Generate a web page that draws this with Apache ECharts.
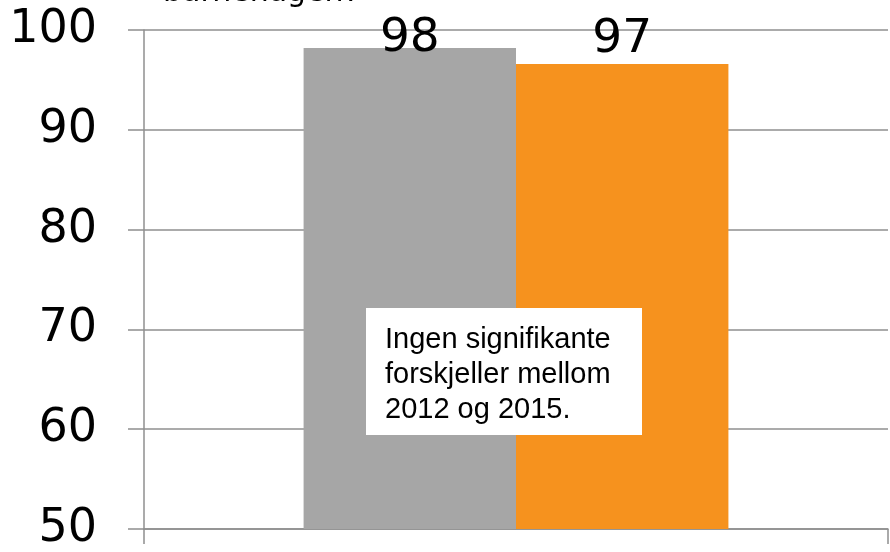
<!DOCTYPE html>
<html>
<head>
<meta charset="utf-8">
<script src="https://cdn.jsdelivr.net/npm/echarts@6/dist/echarts.min.js"></script>
<style>
  html, body { margin: 0; padding: 0; background: #fff; }
  #main { width: 890px; height: 552px; }
</style>
</head>
<body>
<div id="main"></div>
<script>
// data
var categories = ['barnehagen'];
var seriesNames = ['2012', '2015'];
var values2012 = [98.2];
var values2015 = [96.6];
var yTicks = [50, 60, 70, 80, 90, 100];
var noteLines = ['Ingen signifikante', 'forskjeller mellom', '2012 og 2015.'];

var myChart = echarts.init(document.getElementById('main'));

var gridColor = '#8f8f8f';
var bigFont = 'DejaVu Sans, Verdana, sans-serif';

function labelled(values, dist) {
    return values.map(function (v) {
        return { value: v, label: { distance: dist } };
    });
}

var option = {
    animation: false,
    title: {
        text: 'barnehagen?',
        left: 163,
        top: -22,
        padding: 0,
        textStyle: { fontFamily: bigFont, fontSize: 30, fontWeight: 'normal', color: '#000' }
    },
    grid: { left: 144, right: 2, top: 30, bottom: 17, containLabel: false },
    xAxis: {
        type: 'category',
        data: categories,
        axisLine: { lineStyle: { color: gridColor, width: 1.5 } },
        axisTick: { show: true, length: 15, lineStyle: { color: gridColor, width: 1.5 } },
        axisLabel: { show: false }
    },
    yAxis: {
        type: 'value',
        min: yTicks[0],
        max: yTicks[yTicks.length - 1],
        interval: 10,
        axisLine: { show: true, lineStyle: { color: gridColor, width: 1.5 } },
        axisTick: { show: true, length: 16, lineStyle: { color: gridColor, width: 1.5 } },
        axisLabel: { margin: 47, fontFamily: bigFont, fontSize: 46, color: '#000' },
        splitLine: { lineStyle: { color: gridColor, width: 1.5 } }
    },
    series: [{
        name: seriesNames[0],
        type: 'bar',
        data: labelled(values2012, -14),
        itemStyle: { color: '#a6a6a6' },
        barGap: '0%',
        barCategoryGap: '42.9%',
        label: {
            show: true, position: 'top', fontFamily: bigFont, fontSize: 47, color: '#000',
            formatter: function (p) { return Math.round(p.value); }
        }
    }, {
        name: seriesNames[1],
        type: 'bar',
        data: labelled(values2015, 1),
        itemStyle: { color: '#f6921e' },
        barGap: '0%',
        barCategoryGap: '42.9%',
        label: {
            show: true, position: 'top', fontFamily: bigFont, fontSize: 47, color: '#000',
            formatter: function (p) { return Math.round(p.value); }
        }
    }],
    graphic: [{
        type: 'rect',
        shape: { x: 366, y: 308, width: 276, height: 127 },
        style: { fill: '#fff' },
        z: 100
    }, {
        type: 'text',
        x: 385,
        y: 322,
        z: 101,
        style: {
            text: noteLines.join('\n'),
            font: '29px "Liberation Sans", Arial, sans-serif',
            lineHeight: 35,
            fill: '#000'
        }
    }]
};

myChart.setOption(option);
</script>
</body>
</html>
